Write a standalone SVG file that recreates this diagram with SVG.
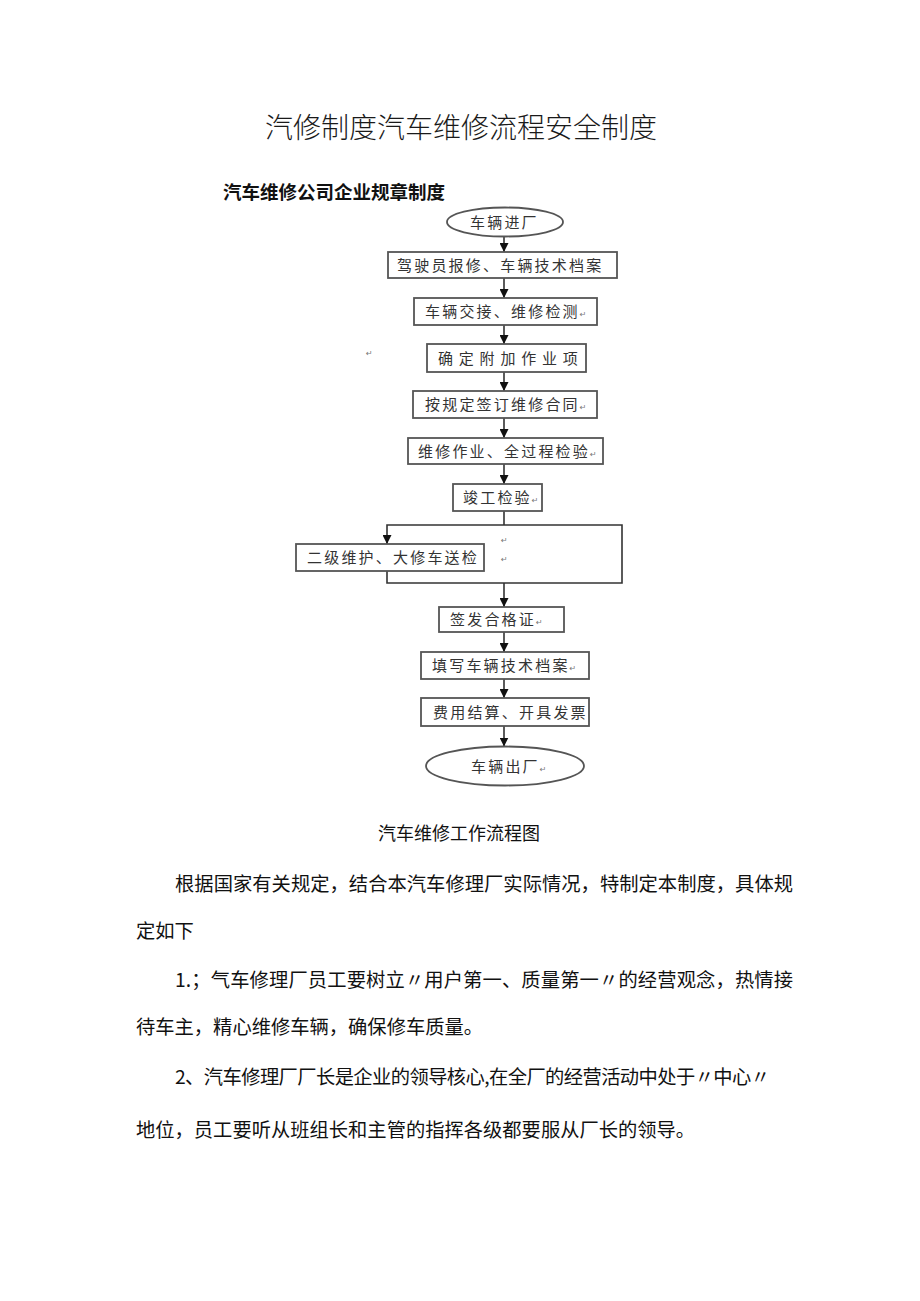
<svg xmlns="http://www.w3.org/2000/svg" width="920" height="1301" viewBox="0 0 920 1301">
<style>
  .bg{fill:#fff}
  .title{font-family:"Noto Sans CJK SC","Noto Sans CJK JP",sans-serif;font-size:28px;fill:#1a1a1a;font-weight:300}
  .sub{font-family:"Noto Sans CJK SC",sans-serif;font-size:18.5px;font-weight:bold;fill:#111}
  .body{font-family:"Noto Sans CJK SC",sans-serif;font-size:19.3px;fill:#111}
  .cap{font-family:"Noto Sans CJK SC",sans-serif;font-size:18px;fill:#111}
  .box{fill:#fff;stroke:#555;stroke-width:1.8}
  .nt{font-family:"Noto Sans CJK SC",sans-serif;font-size:15px;fill:#333;letter-spacing:2.2px}
  .rm{font-family:"DejaVu Sans",sans-serif;font-size:8px;fill:#777;letter-spacing:0}
  .ln{fill:none;stroke:#333;stroke-width:1.6}
</style>
<defs>
  <marker id="ah" viewBox="0 0 10 10" refX="10" refY="5" markerWidth="9" markerHeight="9" markerUnits="userSpaceOnUse" orient="auto">
    <path d="M0,0 L10,5 L0,10 z" fill="#111"/>
  </marker>
</defs>
<rect class="bg" x="0" y="0" width="920" height="1301"/>

<text class="title" x="265" y="138">汽修制度汽车维修流程安全制度</text>
<text class="sub" x="223" y="199">汽车维修公司企业规章制度</text>

<g id="connectors">
  <line class="ln" x1="504" y1="236.5" x2="504" y2="252" marker-end="url(#ah)"/>
  <line class="ln" x1="504" y1="278" x2="504" y2="298" marker-end="url(#ah)"/>
  <line class="ln" x1="504" y1="325" x2="504" y2="344" marker-end="url(#ah)"/>
  <line class="ln" x1="504" y1="372" x2="504" y2="391" marker-end="url(#ah)"/>
  <line class="ln" x1="504" y1="418" x2="504" y2="438" marker-end="url(#ah)"/>
  <line class="ln" x1="504" y1="464" x2="504" y2="484" marker-end="url(#ah)"/>
  <line class="ln" x1="504" y1="511" x2="504" y2="525"/>
  <path class="ln" d="M504,525 H622 V583 H387 V571"/>
  <path class="ln" d="M504,525 H387 V544" marker-end="url(#ah)"/>
  <line class="ln" x1="504" y1="583" x2="504" y2="607" marker-end="url(#ah)"/>
  <line class="ln" x1="504" y1="632" x2="504" y2="652" marker-end="url(#ah)"/>
  <line class="ln" x1="504" y1="679" x2="504" y2="698" marker-end="url(#ah)"/>
  <line class="ln" x1="504" y1="726" x2="504" y2="746.5" marker-end="url(#ah)"/>
</g>

<g id="n1"><ellipse class="box" cx="505" cy="222" rx="58" ry="14.5"/><text class="nt" x="470" y="227.5">车辆进厂</text></g>
<g id="n2"><rect class="box" x="388" y="252" width="229" height="26"/><text class="nt" x="397" y="270.5">驾驶员报修、车辆技术档案</text></g>
<g id="n3"><rect class="box" x="414" y="298" width="183" height="27"/><text class="nt" x="425" y="317">车辆交接、维修检测<tspan class="rm">↵</tspan></text></g>
<g id="n4"><rect class="box" x="427" y="344" width="159" height="28"/><text class="nt" x="438" y="363.5" style="letter-spacing:5.8px">确定附加作业项</text></g>
<g id="n5"><rect class="box" x="413" y="391" width="184" height="27"/><text class="nt" x="425" y="410">按规定签订维修合同<tspan class="rm">↵</tspan></text></g>
<g id="n6"><rect class="box" x="408" y="438" width="195" height="26"/><text class="nt" x="418" y="456.5">维修作业、全过程检验<tspan class="rm">↵</tspan></text></g>
<g id="n7"><rect class="box" x="453" y="484" width="89" height="27"/><text class="nt" x="463" y="503">竣工检验<tspan class="rm">↵</tspan></text></g>
<g id="n8"><rect class="box" x="296" y="544" width="188" height="27"/><text class="nt" x="307" y="563">二级维护、大修车送检</text></g>
<g id="n9"><rect class="box" x="439" y="607" width="125" height="25"/><text class="nt" x="450" y="625">签发合格证<tspan class="rm">↵</tspan></text></g>
<g id="n10"><rect class="box" x="421" y="652" width="168" height="27"/><text class="nt" x="432" y="671">填写车辆技术档案<tspan class="rm">↵</tspan></text></g>
<g id="n11"><rect class="box" x="421" y="698" width="168" height="28"/><text class="nt" x="433" y="717.5">费用结算、开具发票</text></g>
<g id="n12"><ellipse class="box" cx="505" cy="766" rx="79" ry="19.5"/><text class="nt" x="471" y="771.5">车辆出厂<tspan class="rm">↵</tspan></text></g>

<text class="rm" x="366" y="356">↵</text>
<text class="rm" x="501" y="543">↵</text>
<text class="rm" x="501" y="562">↵</text>

<text class="cap" x="378" y="840">汽车维修工作流程图</text>
<text class="body" x="175" y="890.5" textLength="618" lengthAdjust="spacing">根据国家有关规定，结合本汽车修理厂实际情况，特制定本制度，具体规</text>
<text class="body" x="136" y="937.5">定如下</text>
<text class="body" x="175" y="987" textLength="618" lengthAdjust="spacing">1.；气车修理厂员工要树立〃用户第一、质量第一〃的经营观念，热情接</text>
<text class="body" x="136" y="1034">待车主，精心维修车辆，确保修车质量。</text>
<text class="body" x="175" y="1084" textLength="595" lengthAdjust="spacing">2、汽车修理厂厂长是企业的领导核心,在全厂的经营活动中处于〃中心〃</text>
<text class="body" x="136" y="1137">地位，员工要听从班组长和主管的指挥各级都要服从厂长的领导。</text>
</svg>
